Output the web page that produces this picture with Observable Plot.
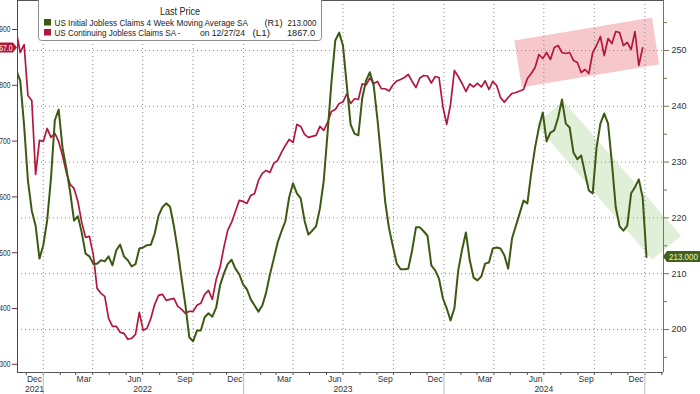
<!DOCTYPE html>
<html><head><meta charset="utf-8">
<script src="https://cdn.jsdelivr.net/npm/d3@7"></script>
<script src="https://cdn.jsdelivr.net/npm/@observablehq/plot@0.6"></script>
<style>
body{margin:0;background:#fff;}
#chart{position:relative;width:700px;height:394px;overflow:hidden;}
#chart svg{overflow:hidden;}
</style></head><body><div id="chart"></div>
<script>
// Weekly series (week-ending Saturdays), first week:
const firstWeek = "2021-11-13";
// US Initial Jobless Claims 4 Week Moving Average SA (thousands, R1)
const initialClaims4wk = [
246.4,244.6,236.6,226.7,221.3,218.6,212.7,
215.1,219.5,227.1,237.5,239.4,232.6,228.9,224.6,219.5,220.3,
217.4,213.6,213.1,211.8,211.8,212.4,212.2,213.1,211.5,214.2,
215.2,213.1,212.4,211.3,211.7,214.5,214.7,215.1,215.2,217.2,
220.4,221.9,222.6,222.0,218.5,214.2,209.1,204.3,198.6,197.9,
199.8,199.8,202.2,202.9,202.3,203.9,207.9,210.0,211.7,212.5,
210.9,209.9,208.1,207.2,205.4,204.3,203.2,204.3,206.6,209.9,
212.7,215.6,217.6,219.4,223.7,226.2,224.4,223.5,219.5,217.0,
217.7,218.5,221.7,226.7,235.3,244.3,251.8,253.2,250.9,243.7,
236.7,235.1,234.8,241.4,244.6,246.1,243.7,237.5,230.3,222.8,
218.1,214.9,211.8,210.8,210.8,210.9,214.2,218.3,218.3,217.6,
216.8,211.5,210.6,209.1,205.6,203.8,201.6,203.8,210.6,214.3,
217.4,212.4,209.3,208.8,209.5,211.8,212.0,214.5,214.7,214.5,
213.3,210.9,216.3,218.6,220.8,223.1,222.6,228.0,232.6,236.2,
238.9,233.7,235.3,235.7,238.0,241.2,236.9,236.2,231.7,230.5,
231.2,228.0,224.9,224.4,232.6,236.9,238.7,236.9,229.8,221.9,
218.5,217.7,218.6,224.4,225.5,226.9,223.7,213.0
];
// US Continuing Jobless Claims SA (thousands, L1)
const continuingClaims = [
1894.6,1858.8,1873.1,1781.8,1772.8,1640.3,1701.2,
1699.4,1722.7,1706.6,1713.7,1699.4,1674.3,1643.9,1622.4,1615.2,1591.9,
1554.3,1527.5,1529.3,1497.0,1436.1,1427.2,1421.8,1382.4,1368.1,1368.1,
1357.3,1355.5,1344.8,1346.6,1353.7,1393.1,1360.9,1364.5,1382.4,1407.5,
1423.6,1425.4,1414.6,1416.4,1418.2,1403.9,1398.5,1391.4,1394.9,1394.9,
1405.7,1409.3,1425.4,1432.5,1416.4,1452.3,1473.8,1509.6,1540.0,1554.3,
1574.0,1593.7,1591.9,1588.3,1602.7,1606.3,1629.6,1642.1,1647.5,1643.9,
1660.0,1665.4,1679.7,1692.2,1703.0,1697.6,1729.9,1726.3,1712.0,1706.6,
1708.4,1710.2,1726.3,1719.1,1733.4,1753.1,1756.7,1767.5,1770.2,1784.5,
1767.5,1775.9,1774.6,1802.7,1800.6,1813.1,1803.3,1806.9,1793.8,1793.8,
1789.9,1800.6,1807.8,1810.5,1814.0,1819.4,1806.9,1796.1,1813.1,1817.6,
1816.7,1804.2,1815.8,1814.0,1762.1,1729.9,1765.7,1826.6,1815.8,1803.3,
1788.9,1802.4,1797.0,1803.3,1797.0,1807.8,1792.5,1806.9,1799.7,1778.2,
1769.8,1778.2,1785.4,1787.2,1789.9,1792.5,1812.2,1821.2,1831.9,1855.2,
1848.1,1858.8,1846.3,1867.8,1871.3,1858.8,1857.0,1858.8,1844.5,1840.9,
1823.0,1828.4,1821.2,1858.8,1871.3,1887.5,1853.4,1883.9,1874.9,1896.4,
1894.6,1871.3,1876.7,1864.2,1896.4,1835.5,1867.0
];
const leftTicks = [1300,1400,1500,1600,1700,1800,1900];
const rightTicks = [200,210,220,230,240,250];
const rightMinorTicks = [195,205,215,225,235,245,255];
const monthLabelDates = ["2021-12-16","2022-03-16","2022-06-16","2022-09-16","2022-12-16","2023-03-16","2023-06-16","2023-09-16","2023-12-16","2024-03-16","2024-06-16","2024-09-16","2024-12-16"];
const yearLabelDates = ["2021-12-16","2022-07-01","2023-07-01","2024-07-01"];
const yearStarts = ["2022-01-01","2023-01-01","2024-01-01","2025-01-01"];
const quarterStarts = ["2022-01-01","2022-04-01","2022-07-01","2022-10-01","2023-01-01","2023-04-01","2023-07-01","2023-10-01","2024-01-01","2024-04-01","2024-07-01","2024-10-01","2025-01-01"];
// highlight bands (annotation corners, date + right-axis value)
const pinkBandDates = ["2024-05-08","2025-01-14","2025-01-27","2024-05-22"];
const pinkBandValues = [251.8,255.9,247.5,243.4];
const greenBandDates = ["2024-06-17","2024-08-05","2025-03-08","2025-01-14"];
const greenBandValues = [236.7,241.0,216.8,212.5];
const legendTitle = "Last Price";
const seriesNames = ["US Initial Jobless Claims 4 Week Moving Average SA","US Continuing Jobless Claims SA -"];
const lastInitial = "213.000", lastContinuing = "1867.0";

const GREEN = "#3d5a13", RED = "#b3173c";
const D = s => new Date(s + "T00:00:00Z");
const start = D(firstWeek);
// left (continuing claims) axis mapped onto right axis units
const toR = v => 250 + (v - 1862.4) / 10;
const fromR = v => (v - 250) * 10 + 1862.4;

const green = initialClaims4wk.map((v, i) => ({date: d3.utcDay.offset(start, 7 * i), value: v}));
const red = continuingClaims.map((v, i) => ({date: d3.utcDay.offset(start, 7 * i), value: toR(v)}));
const pink = pinkBandDates.map((d, i) => ({date: D(d), value: pinkBandValues[i]}));
const gband = greenBandDates.map((d, i) => ({date: D(d), value: greenBandValues[i]}));
const monthTicks = d3.utcMonth.range(D("2021-12-01"), D("2025-02-02"));

const font = "'Liberation Sans', Arial, sans-serif";
const chart = Plot.plot({
  width: 700, height: 394,
  marginLeft: 17, marginRight: 37, marginTop: 0, marginBottom: 22,
  style: {fontFamily: font, fontSize: "8.5px", color: "#333", background: "#fff"},
  x: {type: "utc", domain: [D("2021-11-15"), D("2025-02-04")]},
  y: {domain: [192.29, 258.96]},
  marks: [
    Plot.line(pink, {x: "date", y: "value", fill: "#f7c8cb", stroke: "none"}),
    Plot.line(gband, {x: "date", y: "value", fill: "#e0f0d8", stroke: "none"}),
    Plot.gridY(rightTicks, {stroke: "#8a8a8a", strokeOpacity: 1, strokeDasharray: "1,3"}),
    Plot.gridX(quarterStarts.map(D), {stroke: "#8a8a8a", strokeOpacity: 1, strokeDasharray: "1,3"}),
    Plot.line(red, {x: "date", y: "value", stroke: RED, strokeWidth: 1.7, clip: true}),
    Plot.line(green, {x: "date", y: "value", stroke: GREEN, strokeWidth: 2, clip: true}),
    Plot.ruleY([192.29], {stroke: "#555"}),
    Plot.ruleY([258.96], {stroke: "#555"}),
    Plot.ruleX([D("2021-11-15")], {stroke: "#8a2a3a"}),
    Plot.ruleX([D("2025-02-04")], {stroke: "#77774a"}),
    Plot.axisY({anchor: "right", ticks: rightTicks, tickSize: 5, tickPadding: 3, label: null, stroke: "#77774a", fill: "#333", fontSize: 9}),
    Plot.axisY({anchor: "right", ticks: rightMinorTicks, tickSize: 3, tickFormat: () => "", label: null, stroke: "#77774a"}),
    Plot.axisY({anchor: "left", ticks: leftTicks.map(toR), tickFormat: v => String(Math.round(fromR(v))), tickSize: 5, tickPadding: 2, label: null, stroke: "#8a2a3a", fill: "#333", fontSize: 9}),
    Plot.axisX({ticks: monthTicks, tickSize: 3, tickFormat: () => "", label: null, stroke: "#555"}),
    Plot.axisX({ticks: yearStarts.map(D), tickSize: 22, tickFormat: () => "", label: null, stroke: "#bbb"}),
    Plot.axisX({ticks: monthLabelDates.map(D), tickSize: 0, tickPadding: 3, tickFormat: d3.utcFormat("%b"), label: null, fill: "#333", fontSize: 8.5}),
    Plot.axisX({ticks: yearLabelDates.map(D), tickSize: 0, tickPadding: 13, tickFormat: d3.utcFormat("%Y"), label: null, fill: "#333", fontSize: 8.5})
  ]
});
document.getElementById("chart").appendChild(chart);

const svg = d3.select(chart);
const ys = chart.scale("y");
// condense the clipped left-axis labels (narrow terminal font)
svg.selectAll('g[aria-label="y-axis tick label"]').filter(function() {
  return this.getAttribute("text-anchor") === "end";
}).selectAll("text").attr("textLength", 15).attr("lengthAdjust", "spacingAndGlyphs");

// right tag: last initial claims value
const gy = ys.apply(initialClaims4wk[initialClaims4wk.length - 1]);
const tagR = svg.append("g").attr("text-anchor", "start");
tagR.append("path").attr("d", `M663,${gy} L667,${gy-5.5} L702,${gy-5.5} L702,${gy+5.5} L667,${gy+5.5} Z`).attr("fill", "#44611a");
tagR.append("text").attr("x", 669).attr("y", gy + 3.3).attr("fill", "#e6f2cf").attr("font-size", 9.5).attr("font-family", font).attr("textLength", 29).attr("lengthAdjust", "spacingAndGlyphs").text(lastInitial);
// left tag: last continuing claims value
const ry = ys.apply(toR(continuingClaims[continuingClaims.length - 1]));
const tagL = svg.append("g").attr("text-anchor", "start");
tagL.append("path").attr("d", `M-2,${ry-5} L13,${ry-5} L17,${ry} L13,${ry+5} L-2,${ry+5} Z`).attr("fill", "#b01a3a");
tagL.append("text").attr("x", -8.5).attr("y", ry + 3.3).attr("fill", "#fff").attr("font-size", 9.5).attr("font-family", font).attr("textLength", 21).attr("lengthAdjust", "spacingAndGlyphs").text(lastContinuing);

// legend box
const lg = svg.append("g").attr("font-family", font).attr("fill", "#222").attr("text-anchor", "start");
lg.append("rect").attr("x", 38.5).attr("y", -4).attr("width", 283).attr("height", 44.5).attr("rx", 3).attr("fill", "#fff").attr("stroke", "#8c8c8c");
lg.append("text").attr("x", 160).attr("y", 15).attr("font-size", 10).attr("textLength", 40).attr("lengthAdjust", "spacingAndGlyphs").text(legendTitle);
lg.append("rect").attr("x", 44).attr("y", 19).attr("width", 7).attr("height", 6.5).attr("fill", GREEN);
lg.append("rect").attr("x", 44).attr("y", 29).attr("width", 7).attr("height", 6.5).attr("fill", RED);
const row = (x, y, s, len) => lg.append("text").attr("x", x).attr("y", y).attr("font-size", 9.5).attr("textLength", len).attr("lengthAdjust", "spacingAndGlyphs").text(s);
row(54.5, 25.8, seriesNames[0], 193.5);
row(264.5, 25.8, "(R1)", 18);
row(287.5, 25.8, lastInitial, 29);
row(54.5, 35.8, seriesNames[1], 126);
row(200, 35.8, "on 12/27/24", 45);
row(252.5, 35.8, "(L1)", 17.5);
row(287, 35.8, lastContinuing, 28);
</script></body></html>
